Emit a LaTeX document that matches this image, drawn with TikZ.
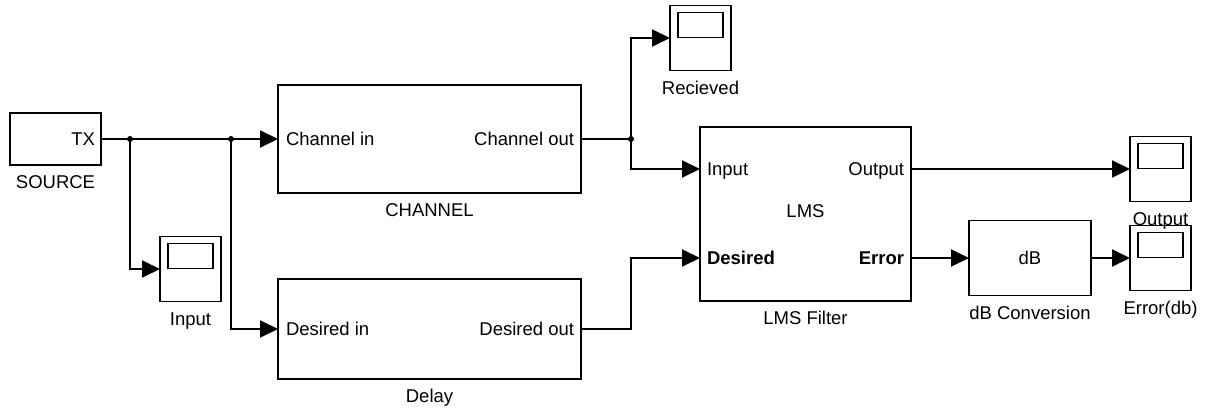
\documentclass[tikz,border=0pt]{standalone}
\usepackage{fontspec}
\setmainfont{Liberation Sans}
\usetikzlibrary{positioning,arrows.meta}

\begin{document}
\begin{tikzpicture}[
        x=1pt,y=1pt,
        line width=1.9pt,
        font=\fontsize{18.5}{22}\selectfont,
        lbl/.style={inner sep=0pt,outer sep=0pt,text height=13.2pt,text depth=0pt},
        sig/.style={-{Triangle[length=18pt,width=17pt]}},
        scopeblk/.style={draw,outer sep=0pt,minimum width=61pt,minimum height=65pt,
            path picture={\draw ([shift={(8pt,-7pt)}]path picture bounding box.north west) rectangle ++(45pt,-25pt);}}
    ]
        \useasboundingbox (0,0) rectangle (1206,408);

        \begin{scope}[
            every node/.style={draw,outer sep=0pt}
        ]
            \node (src)   [minimum width=91pt, minimum height=52pt]  at (55.5,269)  {};
            \node (chan)  [minimum width=303pt,minimum height=108pt] at (429.5,269) {};
            \node (delay) [minimum width=303pt,minimum height=100pt] at (429.5,79)  {};
            \node (lms)   [minimum width=211pt,minimum height=174pt] at (805.5,194) {};
            \node (db)    [minimum width=122pt,minimum height=75pt]  at (1030,150)  {};
        \end{scope}

        \begin{scope}[
            every node/.style={scopeblk}
        ]
            \node (inp)  at (190.5,139)  {};
            \node (rcv)  at (700.5,370)  {};
            \node (outs) at (1160.5,239) {};
            \node (errs) at (1160.5,150) {};
        \end{scope}

        % port texts
        \begin{scope}[
            every node/.style={lbl}
        ]
            \node (tx)      [anchor=east] at ([xshift=-6pt]src.east)             {TX};
            \node (chin)    [anchor=west] at ([xshift=8pt]chan.west)             {Channel in};
            \node (chout)   [anchor=east] at ([xshift=-7pt]chan.east)            {Channel out};
            \node (dlin)    [anchor=west] at ([xshift=8pt]delay.west)            {Desired in};
            \node (dlout)   [anchor=east] at ([xshift=-7pt]delay.east)           {Desired out};
            \node (lmsin)   [anchor=west] at ([xshift=7pt,yshift=45pt]lms.west)  {Input};
            \node (lmsdes)  [anchor=west] at ([xshift=7pt,yshift=-44pt]lms.west) {\bfseries Desired};
            \node (lmsout)  [anchor=east] at ([xshift=-7pt,yshift=45pt]lms.east) {Output};
            \node (lmserr)  [anchor=east] at ([xshift=-7pt,yshift=-44pt]lms.east){\bfseries Error};
            \node (lmsname)               at ([yshift=3pt]lms.center)            {LMS};
            \node (dbname)                at (db.center)                         {dB};
        \end{scope}

        % block names
        \begin{scope}[
            node distance=10.5pt,
            every node/.style={lbl}
        ]
            \node (srclbl)  [below=of src]   {SOURCE};
            \node (inplbl)  [below=of inp]   {Input};
            \node (chanlbl) [below=of chan]  {CHANNEL};
            \node (dlylbl)  [below=of delay] {Delay};
            \node (rcvlbl)  [below=of rcv]   {Recieved};
            \node (lmslbl)  [below=of lms]   {LMS Filter};
            \node (dblbl)   [below=of db]    {dB Conversion};
            \node (outlbl)  [below=of outs]  {Output};
            \node (errlbl)  [below=of errs]  {Error(db)};
        \end{scope}

        \coordinate (j1) at (130,269);
        \coordinate (j2) at (231,269);
        \coordinate (j3) at (631,269);
        \coordinate (pin)  at ([yshift=45pt]lms.west);
        \coordinate (pdes) at ([yshift=-44pt]lms.west);
        \coordinate (pout) at ([yshift=45pt]lms.east);
        \coordinate (perr) at ([yshift=-44pt]lms.east);

        \draw       (src) -- (j1) -- (j2);
        \draw [sig] (j2) -- (chan);
        \draw [sig] (j1) |- (inp);
        \draw [sig] (j2) |- (delay);
        \draw       (chan) -- (j3);
        \draw [sig] (j3) |- (rcv);
        \draw [sig] (j3) |- (pin);
        \draw [sig] (delay.east) -- (delay.east -| j3) |- (pdes);
        \draw [sig] (pout) -- (outs);
        \draw [sig] (perr) -- (db);
        \draw [sig] (db) -- (errs);
        \fill (j1) circle (3pt);
        \fill (j2) circle (3pt);
        \fill (j3) circle (3pt);
    \end{tikzpicture}
\end{document}
